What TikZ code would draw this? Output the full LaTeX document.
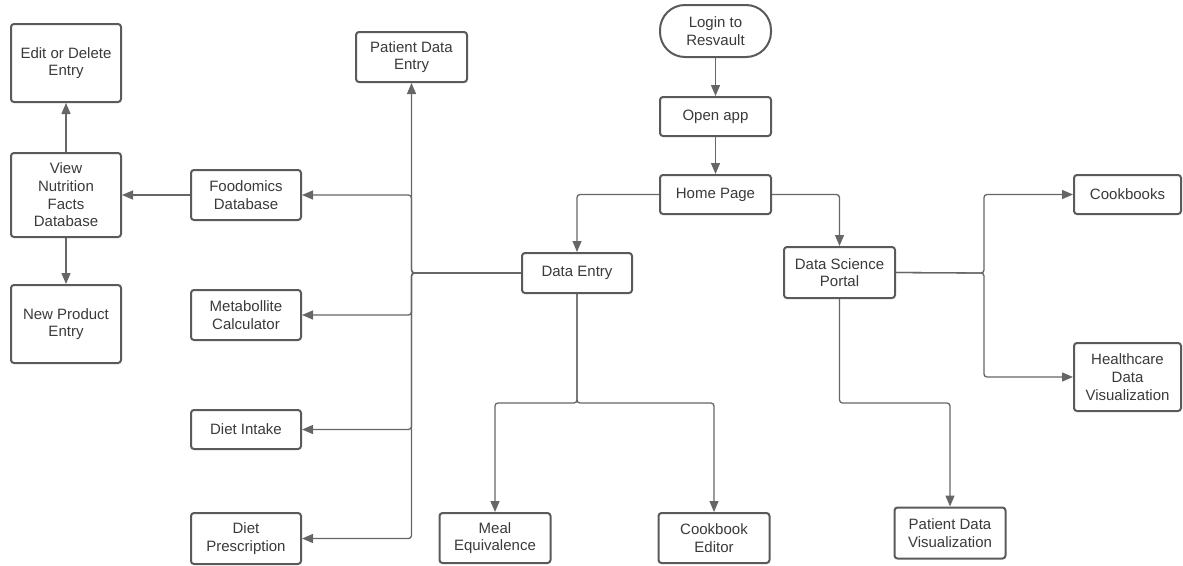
\documentclass[tikz,border=0pt]{standalone}
\usepackage{fontspec}
\setmainfont{Liberation Sans}
\usetikzlibrary{arrows.meta}
\definecolor{boxc}{HTML}{5A5A5A}
\definecolor{linec}{HTML}{666666}
\definecolor{txtc}{HTML}{3A3A3A}
\tikzset{
  box/.style={draw=boxc, line width=2pt, rounded corners=3pt, fill=white,
    align=center, text=txtc, inner sep=0pt,
    font=\fontsize{15}{17.7}\selectfont},
  conn/.style={draw=linec, line width=1.3pt, rounded corners=3pt,
    -{Triangle[length=11pt,width=9pt]}},
}
\begin{document}
\begin{tikzpicture}[x=1pt,y=-1pt]
\useasboundingbox (0,0) rectangle (1183,565);
% nodes
\node[box, minimum width=110pt, minimum height=78pt] (edit) at (66,63) {Edit or Delete\\Entry};
\node[box, minimum width=110pt, minimum height=84pt] (view) at (66,195) {View\\Nutrition\\Facts\\Database};
\node[box, minimum width=110pt, minimum height=78pt] (newp) at (66,324) {New Product\\Entry};
\node[box, minimum width=110pt, minimum height=50pt] (food) at (246,195) {Foodomics\\Database};
\node[box, minimum width=110pt, minimum height=50pt] (meta) at (246,315) {Metabollite\\Calculator};
\node[box, minimum width=110pt, minimum height=39pt] (intake) at (246,429.5) {Diet Intake};
\node[box, minimum width=110pt, minimum height=51pt] (presc) at (246,538.5) {Diet\\Prescription};
\node[box, minimum width=111pt, minimum height=50pt] (pde) at (411.5,57) {Patient Data\\Entry};
\node[box, minimum width=111pt, minimum height=52pt, rounded corners=25pt] (login) at (715.5,31) {Login to\\Resvault};
\node[box, minimum width=111pt, minimum height=39pt] (open) at (715.5,116.5) {Open app};
\node[box, minimum width=111pt, minimum height=39pt] (home) at (715.5,194.5) {Home Page};
\node[box, minimum width=110pt, minimum height=40pt] (de) at (577,273) {Data Entry};
\node[box, minimum width=111pt, minimum height=51pt] (dsp) at (839.5,272.5) {Data Science\\Portal};
\node[box, minimum width=107pt, minimum height=39pt] (cook) at (1127.5,194.5) {Cookbooks};
\node[box, minimum width=107pt, minimum height=68pt] (health) at (1127.5,377) {Healthcare\\Data\\Visualization};
\node[box, minimum width=111pt, minimum height=50pt] (meal) at (495,538) {Meal\\Equivalence};
\node[box, minimum width=111pt, minimum height=50pt] (cbe) at (714,538) {Cookbook\\Editor};
\node[box, minimum width=111pt, minimum height=51pt] (pdv) at (950,533) {Patient Data\\Visualization};
% junction coordinates
\coordinate (tj) at (411.5,273);
\coordinate (dej) at (577,403);
\coordinate (dsj) at (984,273);
% connectors
\draw[conn] (login) -- (open);
\draw[conn] (open) -- (home);
\draw[conn] (home.west) -| (de.north);
\draw[conn] (home.east) -| (dsp.north);
\draw[conn] (view) -- (edit);
\draw[conn] (view) -- (newp);
\draw[conn] (food.west) -- (view.east |- food.west);
% data entry trunk
\draw[conn] (de.west) -- (tj) -- (pde.south);
\draw[conn] (de.west) -- (tj) |- (food.east);
\draw[conn] (de.west) -- (tj) |- (meta.east);
\draw[conn] (de.west) -- (tj) |- (intake.east);
\draw[conn] (de.west) -- (tj) |- (presc.east);
% data entry bottom
\draw[conn] (de.south) -- (dej) -| (meal.north);
\draw[conn] (de.south) -- (dej) -| (cbe.north);
% data science portal
\draw[conn] (dsp.east) -- (dsj) |- (cook.west);
\draw[conn] (dsp.east) -- (dsj) |- (health.west);
\draw[conn] (dsp.south) |- (dej -| pdv.north) -- (pdv.north);
\end{tikzpicture}
\end{document}
